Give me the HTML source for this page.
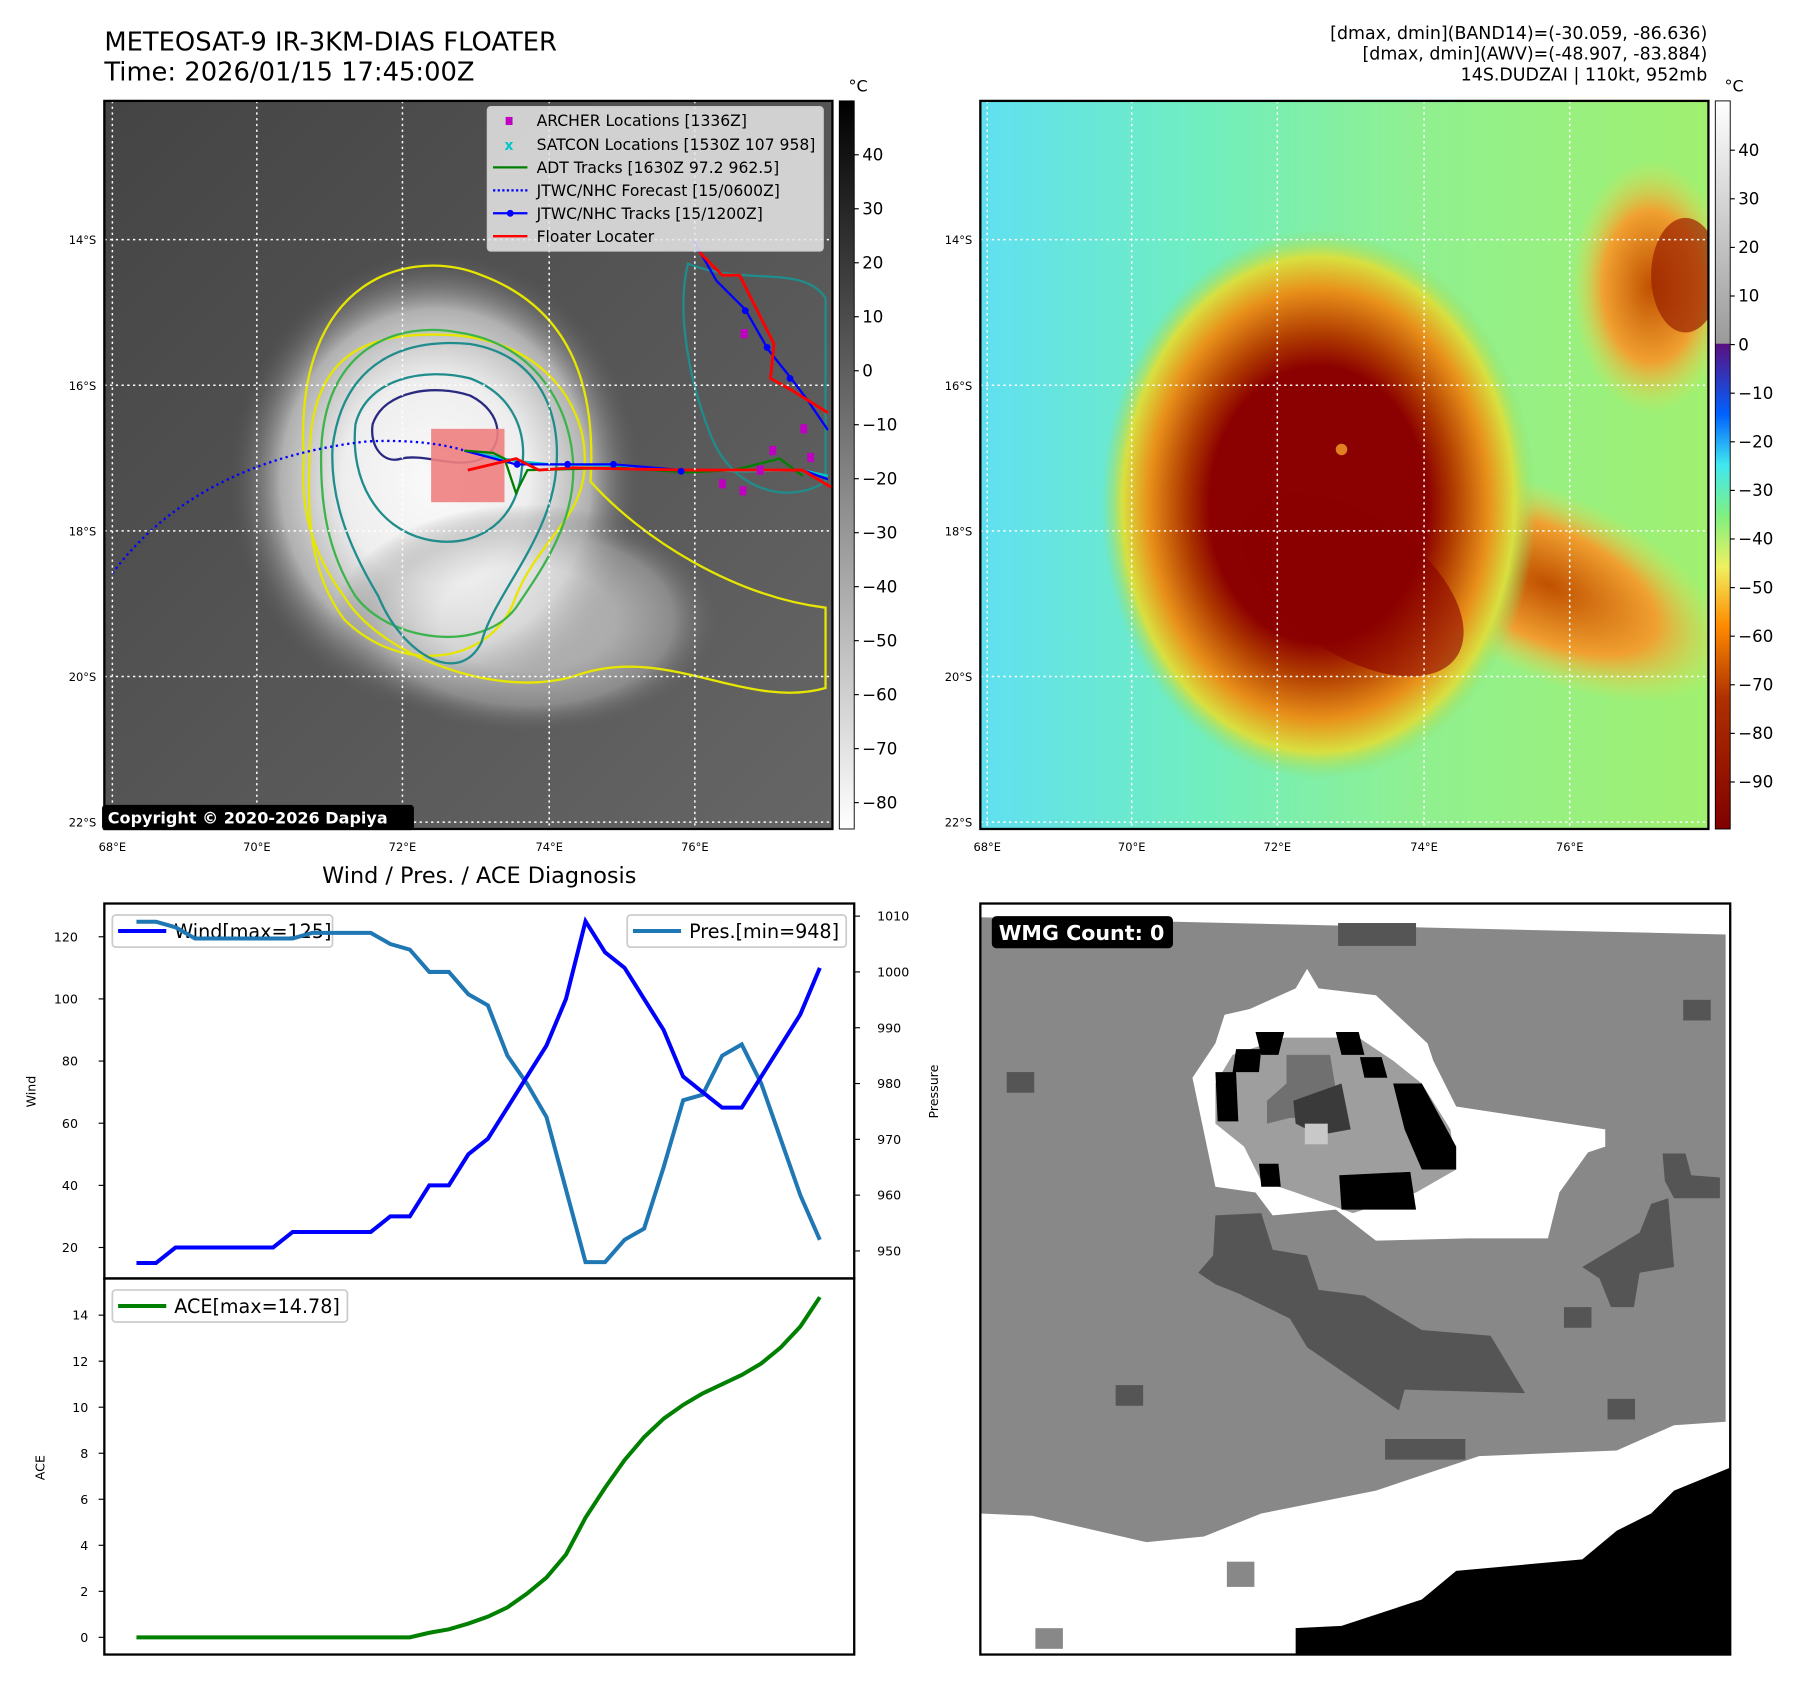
<!DOCTYPE html>
<html><head><meta charset="utf-8">
<style>
html,body{margin:0;padding:0;background:#fff;overflow:hidden}
#root{position:absolute;left:0;top:0;width:1560px;height:1467px;transform:scale(1.1466);transform-origin:0 0;font-family:"Liberation Sans","DejaVu Sans",sans-serif}
svg text{font-family:"DejaVu Sans","Liberation Sans",sans-serif}
</style></head>
<body>
<div id="root">
<svg id="fig" width="1560" height="1467" viewBox="0 0 1560 1467" xmlns="http://www.w3.org/2000/svg">
<defs>
<radialGradient id="gcore" cx="0.5" cy="0.5" r="0.5">
<stop offset="0" stop-color="#fafafa"/><stop offset="0.45" stop-color="#eeeeee"/><stop offset="0.75" stop-color="#b0b0b0"/><stop offset="1" stop-color="#5a5a5a" stop-opacity="0"/>
</radialGradient>
<linearGradient id="gbg" x1="0" y1="0" x2="1" y2="1">
<stop offset="0" stop-color="#444"/><stop offset="0.5" stop-color="#555"/><stop offset="1" stop-color="#666"/>
</linearGradient>
<radialGradient id="cold" cx="0.5" cy="0.5" r="0.5">
<stop offset="0" stop-color="#8b0000"/><stop offset="0.5" stop-color="#8b0000"/><stop offset="0.62" stop-color="#b03c00"/><stop offset="0.78" stop-color="#e8901a"/><stop offset="0.9" stop-color="#d8e040"/><stop offset="1" stop-color="#88e070" stop-opacity="0"/>
</radialGradient>
<radialGradient id="arm" cx="0.5" cy="0.5" r="0.5">
<stop offset="0" stop-color="#c05000"/><stop offset="0.6" stop-color="#f0a030"/><stop offset="1" stop-color="#e0e050" stop-opacity="0"/>
</radialGradient>
<linearGradient id="gbg2" x1="0" y1="0" x2="1" y2="0">
<stop offset="0" stop-color="#60e0f0"/><stop offset="0.3" stop-color="#70eec0"/><stop offset="0.6" stop-color="#90f090"/><stop offset="1" stop-color="#a0f070"/>
</linearGradient>
<linearGradient id="cb1" x1="0" y1="0" x2="0" y2="1">
<stop offset="0" stop-color="#000"/><stop offset="1" stop-color="#fff"/>
</linearGradient>
<linearGradient id="cb2" x1="0" y1="0" x2="0" y2="1">
<stop offset="0" stop-color="#fff"/><stop offset="0.333" stop-color="#9a9a9a"/><stop offset="0.334" stop-color="#5a1080"/><stop offset="0.43" stop-color="#0060ff"/><stop offset="0.5" stop-color="#40e8f0"/><stop offset="0.57" stop-color="#80f080"/><stop offset="0.64" stop-color="#f0f060"/><stop offset="0.72" stop-color="#ff8c00"/><stop offset="0.82" stop-color="#b03000"/><stop offset="1" stop-color="#800000"/>
</linearGradient>
<clipPath id="c1"><rect x="91" y="88" width="635" height="635"/></clipPath>
<clipPath id="c2"><rect x="855" y="88" width="635" height="635"/></clipPath>
</defs>

<!-- Titles -->
<text x="91" y="44" font-size="22.5">METEOSAT-9 IR-3KM-DIAS FLOATER</text>
<text x="91" y="70" font-size="22.5">Time: 2026/01/15 17:45:00Z</text>
<g font-size="15.2" text-anchor="end">
<text x="1489" y="34">[dmax, dmin](BAND14)=(-30.059, -86.636)</text>
<text x="1489" y="52">[dmax, dmin](AWV)=(-48.907, -83.884)</text>
<text x="1489" y="70">14S.DUDZAI | 110kt, 952mb</text>
</g>

<!-- Left IR panel -->
<g clip-path="url(#c1)">
<rect x="91" y="88" width="635" height="635" fill="url(#gbg)"/>
<ellipse cx="380" cy="420" rx="180" ry="200" fill="url(#gcore)"/>
<ellipse cx="460" cy="540" rx="170" ry="100" fill="url(#gcore)" opacity="0.55"/>
<path d="M270 400 C270 300 330 290 390 292 C470 295 510 350 510 400 C512 450 470 470 450 520 C430 580 350 590 300 540 C270 500 268 450 270 400Z" fill="none" stroke="#e6e600" stroke-width="2"/>
<path d="M265 400 C255 240 360 215 420 240 C500 270 520 340 515 420 C560 470 640 520 720 530 L720 600 C650 620 580 560 500 590 C430 610 330 570 300 520 C270 480 262 440 265 400Z" fill="none" stroke="#e6e600" stroke-width="2"/>
<path d="M280 400 C280 300 350 280 400 290 C470 300 500 360 500 410 C500 460 470 500 450 530 C420 570 340 560 310 520 C285 480 280 440 280 400Z" fill="none" stroke="#3cb44b" stroke-width="2"/>
<path d="M290 390 C300 310 360 295 410 300 C470 310 490 360 485 410 C480 470 430 520 420 560 C400 600 350 570 330 520 C300 470 288 430 290 390Z" fill="none" stroke="#208c8c" stroke-width="2"/>
<path d="M310 370 C320 330 370 320 410 330 C450 345 460 380 455 410 C450 460 410 480 370 470 C330 460 305 420 310 370Z" fill="none" stroke="#208c8c" stroke-width="2"/>
<path d="M325 370 C335 340 380 335 410 345 C440 360 440 390 420 400 C400 410 370 395 350 400 C335 405 322 390 325 370Z" fill="none" stroke="#2a2a80" stroke-width="2"/>
<path d="M600 230 C650 250 700 230 720 260 L720 420 C690 440 640 430 620 380 C600 330 590 270 600 230Z" fill="none" stroke="#208c8c" stroke-width="2"/>
<rect x="376" y="374" width="64" height="64" fill="#f08080" opacity="0.9"/>
<path d="M98 500 C150 430 230 395 320 385 C360 383 390 388 405 393" fill="none" stroke="#0000ff" stroke-width="2" stroke-dasharray="2,3"/>
<polyline points="405,393 450,402 480,405 535,406 595,410 650,411 700,410 722,415" fill="none" stroke="#00c8c8" stroke-width="2"/>
<polyline points="405,393 450,405 495,405 535,405 595,410 650,410 700,410 722,418" fill="none" stroke="#0000ff" stroke-width="2"/>
<polyline points="405,393 430,395 440,400 450,430 460,410 540,408 600,412 640,410 680,400 700,415" fill="none" stroke="#008000" stroke-width="2"/>
<polyline points="408,410 450,400 470,410 500,408 600,410 700,410 725,425" fill="none" stroke="#ff0000" stroke-width="2.5"/>
<polyline points="605,210 625,245 650,270 670,305 690,330 705,350 722,375" fill="none" stroke="#0000ff" stroke-width="2"/>
<polyline points="610,220 630,240 645,240 675,300 672,330 690,340 722,360" fill="none" stroke="#ff0000" stroke-width="2.5"/>
<g fill="#c000c0"><rect x="646" y="287" width="6" height="8"/><rect x="671" y="389" width="6" height="8"/><rect x="660" y="406" width="6" height="8"/><rect x="627" y="418" width="6" height="8"/><rect x="645" y="424" width="6" height="8"/><rect x="698" y="370" width="6" height="8"/><rect x="704" y="395" width="6" height="8"/></g>
<g fill="#0000ff"><circle cx="451" cy="405" r="3"/><circle cx="495" cy="405" r="3"/><circle cx="535" cy="405" r="3"/><circle cx="594" cy="411" r="3"/><circle cx="650" cy="271" r="3"/><circle cx="669" cy="303" r="3"/><circle cx="689" cy="330" r="3"/></g>
</g>
<g stroke="#fff" stroke-width="1.3" stroke-dasharray="2,3">
<line x1="98" y1="88" x2="98" y2="723"/><line x1="224" y1="88" x2="224" y2="723"/><line x1="351" y1="88" x2="351" y2="723"/><line x1="479" y1="88" x2="479" y2="723"/><line x1="606" y1="88" x2="606" y2="723"/>
<line x1="91" y1="209" x2="726" y2="209"/><line x1="91" y1="336" x2="726" y2="336"/><line x1="91" y1="463" x2="726" y2="463"/><line x1="91" y1="590" x2="726" y2="590"/><line x1="91" y1="717" x2="726" y2="717"/>
</g>
<rect x="91" y="88" width="635" height="635" fill="none" stroke="#000" stroke-width="2"/>
<!-- legend -->
<g>
<rect x="425" y="93" width="293" height="126" rx="3" fill="#e8e8e8" fill-opacity="0.85" stroke="#ccc"/>
<g font-size="13.6">
<rect x="441" y="102" width="6" height="7" fill="#c000c0"/><text x="468" y="110">ARCHER Locations [1336Z]</text>
<text x="440" y="131" fill="#00c8c8" font-size="12" font-weight="bold">x</text><text x="468" y="131">SATCON Locations [1530Z 107 958]</text>
<line x1="430" y1="146" x2="460" y2="146" stroke="#008000" stroke-width="2"/><text x="468" y="151">ADT Tracks [1630Z 97.2 962.5]</text>
<line x1="430" y1="166" x2="460" y2="166" stroke="#0000ff" stroke-width="2" stroke-dasharray="2,2"/><text x="468" y="171">JTWC/NHC Forecast [15/0600Z]</text>
<line x1="430" y1="186" x2="460" y2="186" stroke="#0000ff" stroke-width="2"/><circle cx="445" cy="186" r="3" fill="#0000ff"/><text x="468" y="191">JTWC/NHC Tracks [15/1200Z]</text>
<line x1="430" y1="206" x2="460" y2="206" stroke="#ff0000" stroke-width="2"/><text x="468" y="211">Floater Locater</text>
</g></g>
<rect x="89" y="702" width="272" height="22" rx="3" fill="#000"/>
<text x="94" y="718" font-size="14" font-weight="bold" fill="#fff">Copyright © 2020-2026 Dapiya</text>

<!-- axis labels -->
<g font-size="10">
<text x="84" y="213" text-anchor="end">14°S</text><text x="84" y="340" text-anchor="end">16°S</text><text x="84" y="467" text-anchor="end">18°S</text><text x="84" y="594" text-anchor="end">20°S</text><text x="84" y="721" text-anchor="end">22°S</text>
<text x="98" y="742" text-anchor="middle">68°E</text><text x="224" y="742" text-anchor="middle">70°E</text><text x="351" y="742" text-anchor="middle">72°E</text><text x="479" y="742" text-anchor="middle">74°E</text><text x="606" y="742" text-anchor="middle">76°E</text>
<text x="848" y="213" text-anchor="end">14°S</text><text x="848" y="340" text-anchor="end">16°S</text><text x="848" y="467" text-anchor="end">18°S</text><text x="848" y="594" text-anchor="end">20°S</text><text x="848" y="721" text-anchor="end">22°S</text>
<text x="861" y="742" text-anchor="middle">68°E</text><text x="987" y="742" text-anchor="middle">70°E</text><text x="1114" y="742" text-anchor="middle">72°E</text><text x="1242" y="742" text-anchor="middle">74°E</text><text x="1369" y="742" text-anchor="middle">76°E</text>
</g>
<rect x="732" y="88" width="13" height="635" fill="url(#cb1)" stroke="#000" stroke-width="0.8"/>
<text x="740" y="80" font-size="14">°C</text>
<g id="cb1ticks" font-size="14.5"></g>

<!-- Right AWV panel -->
<g clip-path="url(#c2)">
<rect x="855" y="88" width="635" height="635" fill="url(#gbg2)"/>
<ellipse cx="1440" cy="250" rx="70" ry="110" fill="url(#arm)"/>
<ellipse cx="1470" cy="240" rx="30" ry="50" fill="#9a2000" opacity="0.7"/>
<ellipse cx="1350" cy="510" rx="170" ry="80" transform="rotate(25 1350 510)" fill="url(#arm)"/>
<ellipse cx="1150" cy="440" rx="190" ry="240" fill="url(#cold)"/>
<ellipse cx="1180" cy="510" rx="110" ry="60" transform="rotate(35 1180 510)" fill="#8b0000" opacity="0.6"/>
<circle cx="1170" cy="392" r="5" fill="#e08020"/>
</g>
<g stroke="#fff" stroke-width="1.3" stroke-dasharray="2,3">
<line x1="861" y1="88" x2="861" y2="723"/><line x1="987" y1="88" x2="987" y2="723"/><line x1="1114" y1="88" x2="1114" y2="723"/><line x1="1242" y1="88" x2="1242" y2="723"/><line x1="1369" y1="88" x2="1369" y2="723"/>
<line x1="855" y1="209" x2="1490" y2="209"/><line x1="855" y1="336" x2="1490" y2="336"/><line x1="855" y1="463" x2="1490" y2="463"/><line x1="855" y1="590" x2="1490" y2="590"/><line x1="855" y1="717" x2="1490" y2="717"/>
</g>
<rect x="855" y="88" width="635" height="635" fill="none" stroke="#000" stroke-width="2"/>
<rect x="1496" y="88" width="13" height="635" fill="url(#cb2)" stroke="#000" stroke-width="0.8"/>
<text x="1504" y="80" font-size="14">°C</text>
<g id="cb2ticks" font-size="14.5"></g>

<text x="418" y="770" font-size="19.5" text-anchor="middle">Wind / Pres. / ACE Diagnosis</text>
<g id="chart"></g>

<!-- WMG panel -->
<g>
<rect x="855" y="788" width="654" height="655" fill="#fff"/>
<polygon points="855,800 1505,815 1505,1240 1460,1243 1410,1265 1290,1270 1200,1300 1100,1320 1050,1340 1000,1345 900,1322 855,1320" fill="#888"/>
<polygon points="1130,1443 1130,1420 1170,1418 1240,1395 1270,1370 1380,1360 1410,1335 1440,1320 1460,1300 1509,1280 1509,1443" fill="#000"/>
<polygon points="1068,885 1090,880 1130,862 1140,845 1150,862 1200,868 1245,910 1250,925 1270,965 1400,985 1400,1000 1385,1005 1360,1040 1350,1080 1280,1080 1200,1082 1165,1055 1110,1060 1095,1040 1060,1035 1040,940 1060,910Z" fill="#fff"/>
<polygon points="1075,920 1120,905 1185,905 1215,925 1240,945 1265,985 1270,1020 1235,1040 1180,1058 1130,1040 1100,1030 1085,1000 1060,980 1060,945Z" fill="#9e9e9e"/>
<path d="M1095,900 L1120,900 L1115,920 L1100,920Z M1165,900 L1185,900 L1190,920 L1170,920Z M1078,915 L1100,915 L1098,935 L1075,935Z M1186,922 L1205,922 L1210,940 L1190,940Z M1060,935 L1078,935 L1080,978 L1062,978Z M1215,945 L1240,945 L1270,1000 L1270,1020 L1240,1020 L1225,985Z M1098,1015 L1115,1015 L1117,1035 L1100,1035Z M1168,1025 L1230,1022 L1235,1055 L1170,1055Z" fill="#000"/>
<polygon points="1122,920 1160,920 1165,950 1150,975 1125,975 1105,980 1105,960 1122,945Z" fill="#707070"/>
<polygon points="1128,960 1170,945 1178,985 1150,990 1130,980Z" fill="#3a3a3a"/>
<rect x="1138" y="980" width="20" height="18" fill="#c8c8c8"/>
<polygon points="1060,1060 1100,1058 1110,1090 1140,1095 1150,1125 1190,1130 1240,1160 1300,1165 1330,1215 1225,1212 1220,1230 1140,1175 1125,1150 1080,1128 1060,1120 1045,1110 1058,1095Z" fill="#555"/>
<polygon points="1380,1105 1430,1075 1440,1050 1455,1045 1460,1105 1430,1110 1425,1140 1405,1140 1395,1115Z" fill="#555"/>
<polygon points="1450,1006 1470,1006 1475,1025 1500,1027 1500,1045 1460,1045 1452,1030Z" fill="#555"/>
<rect x="1167" y="805" width="68" height="20" fill="#555"/>
<rect x="1468" y="872" width="24" height="18" fill="#555"/>
<rect x="878" y="935" width="24" height="18" fill="#555"/>
<rect x="973" y="1208" width="24" height="18" fill="#555"/>
<rect x="1208" y="1255" width="70" height="18" fill="#555"/>
<rect x="1364" y="1140" width="24" height="18" fill="#555"/>
<rect x="1402" y="1220" width="24" height="18" fill="#555"/>
<rect x="903" y="1420" width="24" height="18" fill="#888"/>
<rect x="1070" y="1362" width="24" height="22" fill="#888"/>
</g>
<rect x="855" y="788" width="654" height="655" fill="none" stroke="#000" stroke-width="2"/>
<rect x="865" y="799" width="158" height="28" rx="4" fill="#000"/>
<text x="871" y="820" font-size="18" font-weight="bold" fill="#fff">WMG Count: 0</text>
</svg>
</div>
<script>
const windValues=[15,15,20,20,20,20,20,20,25,25,25,25,25,30,30,40,40,50,55,65,75,85,100,125,115,110,100,90,75,70,65,65,75,85,95,110];
const presValues=[1009,1009,1008,1006,1006,1006,1006,1006,1006,1007,1007,1007,1007,1005,1004,1000,1000,996,994,985,980,974,961,948,948,952,954,965,977,978,985,987,980,970,960,952];
const aceValues=[0,0,0,0,0,0,0,0,0,0,0,0,0,0,0,0.2,0.35,0.6,0.9,1.3,1.9,2.6,3.6,5.2,6.5,7.7,8.7,9.5,10.1,10.6,11.0,11.4,11.9,12.6,13.5,14.78];
const windTicks=[20,40,60,80,100,120];
const presTicks=[950,960,970,980,990,1000,1010];
const aceTicks=[0,2,4,6,8,10,12,14];
const irCbTicks=[40,30,20,10,0,-10,-20,-30,-40,-50,-60,-70,-80];
const awvCbTicks=[40,30,20,10,0,-10,-20,-30,-40,-50,-60,-70,-80,-90];

const NS='http://www.w3.org/2000/svg';
function mk(tag,attrs,parent){const e=document.createElementNS(NS,tag);for(const k in attrs)e.setAttribute(k,attrs[k]);parent.appendChild(e);return e;}
const xS=i=>119+i*(715-119)/(windValues.length-1);
const yWind=v=>1088-(v-20)*(1088-817)/100;
const yPres=v=>1091-(v-950)*(1091-799)/60;
const yAce=v=>1428-v*(1428-1147)/14;
const yCb1=v=>135+(40-v)*(700-135)/120;
const yCb2=v=>131+(40-v)*(682-131)/130;

const ch=document.getElementById('chart');
let f=mk('rect',{x:91,y:788,width:654,height:327,fill:'none',stroke:'#000','stroke-width':2},ch);


f=mk('rect',{x:91,y:1115,width:654,height:328,fill:'none',stroke:'#000','stroke-width':2},ch);


windTicks.forEach(v=>{const y=yWind(v);
 mk('line',{x1:86,y1:y,x2:91,y2:y,stroke:'#000'},ch);
 const t=mk('text',{x:68,y:y+4,'font-size':11,'text-anchor':'end'},ch);t.textContent=v;
 
 });
presTicks.forEach(v=>{const y=yPres(v);
 mk('line',{x1:745,y1:y,x2:750,y2:y,stroke:'#000'},ch);
 const t=mk('text',{x:765,y:y+4,'font-size':11},ch);t.textContent=v;
 
 });
aceTicks.forEach(v=>{const y=yAce(v);
 mk('line',{x1:86,y1:y,x2:91,y2:y,stroke:'#000'},ch);
 const t=mk('text',{x:77,y:y+4,'font-size':11,'text-anchor':'end'},ch);t.textContent=v;
 
 });
let t=mk('text',{x:31,y:952,'font-size':11,'text-anchor':'middle',transform:'rotate(-90 31 952)'},ch);t.textContent='Wind';


t=mk('text',{x:818,y:952,'font-size':11,'text-anchor':'middle',transform:'rotate(-90 818 952)'},ch);t.textContent='Pressure';


t=mk('text',{x:39,y:1280,'font-size':11,'text-anchor':'middle',transform:'rotate(-90 39 1280)'},ch);t.textContent='ACE';



function legend(x,y,w,color,label,name){
 const g=mk('g',{},ch);
 
 
 mk('rect',{x:x,y:y,width:w,height:28,rx:3,fill:'#fff','fill-opacity':0.8,stroke:'#ccc','stroke-width':1.5},g);
 mk('line',{x1:x+5,y1:y+14,x2:x+47,y2:y+14,stroke:color,'stroke-width':3.5},g);
 const tt=mk('text',{x:x+54,y:y+20,'font-size':16.7},g);tt.textContent=label;}
legend(98,798,192,'#0000ff','Wind[max=125]','wind-legend');
legend(547,798,191,'#1f77b4','Pres.[min=948]','pressure-legend');
legend(98,1125,205,'#008000','ACE[max=14.78]','ace-legend');

let l=mk('polyline',{points:presValues.map((v,i)=>xS(i)+','+yPres(v)).join(' '),fill:'none',stroke:'#1f77b4','stroke-width':3.5},ch);


l=mk('polyline',{points:windValues.map((v,i)=>xS(i)+','+yWind(v)).join(' '),fill:'none',stroke:'#0000ff','stroke-width':3.5},ch);


l=mk('polyline',{points:aceValues.map((v,i)=>xS(i)+','+yAce(v)).join(' '),fill:'none',stroke:'#008000','stroke-width':3.5},ch);



const c1=document.getElementById('cb1ticks');
irCbTicks.forEach(v=>{const y=yCb1(v);
 mk('line',{x1:745,y1:y,x2:749,y2:y,stroke:'#000'},c1);
 const tx=mk('text',{x:752,y:y+5},c1);tx.textContent=v<0?'\u2212'+(-v):v;
 
 });
const c2=document.getElementById('cb2ticks');
awvCbTicks.forEach(v=>{const y=yCb2(v);
 mk('line',{x1:1509,y1:y,x2:1513,y2:y,stroke:'#000'},c2);
 const tx=mk('text',{x:1516,y:y+5},c2);tx.textContent=v<0?'\u2212'+(-v):v;
 
 });
</script>
</body></html>
